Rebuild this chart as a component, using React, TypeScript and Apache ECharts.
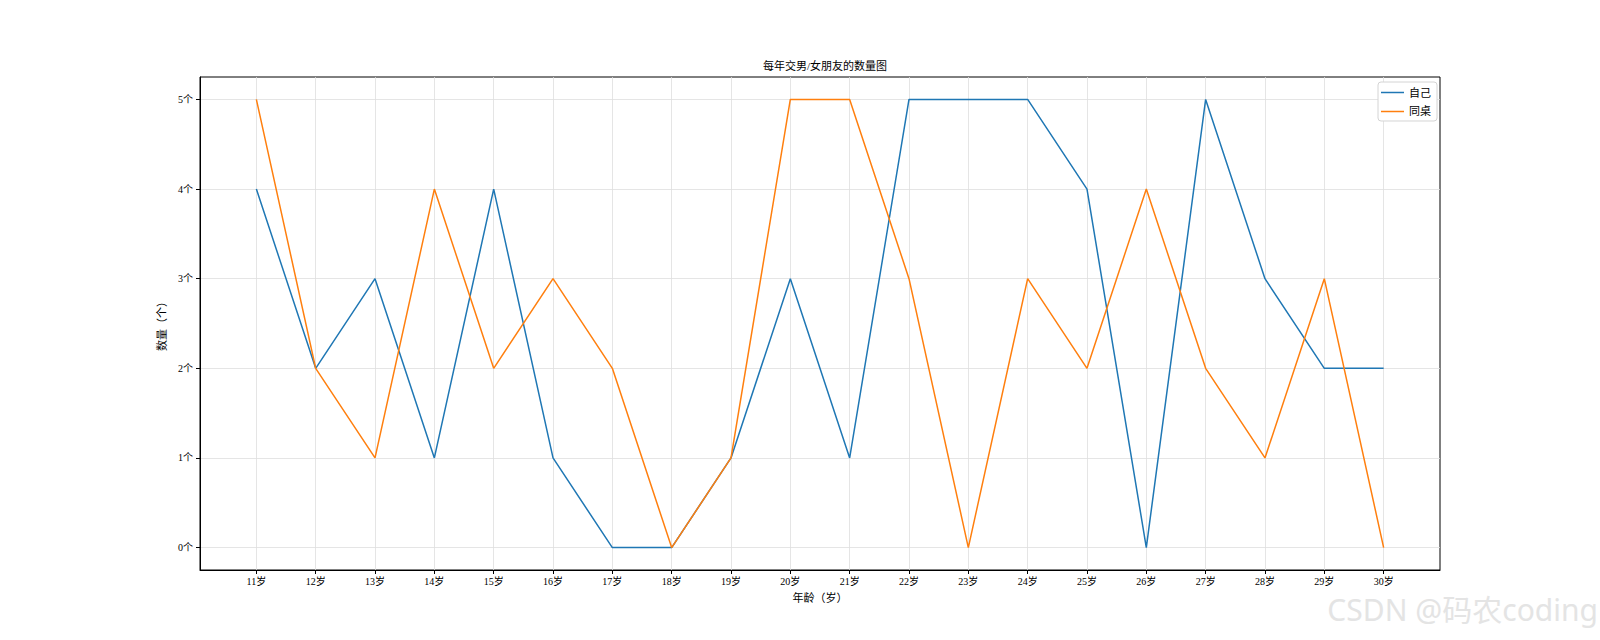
import React, { useEffect, useRef } from "react";
import * as echarts from "echarts";

const ages = [11, 12, 13, 14, 15, 16, 17, 18, 19, 20, 21, 22, 23, 24, 25, 26, 27, 28, 29, 30];
const selfCounts = [4, 2, 3, 1, 4, 1, 0, 0, 1, 3, 1, 5, 5, 5, 4, 0, 5, 3, 2, 2];
const deskmateCounts = [5, 2, 1, 4, 2, 3, 2, 0, 1, 5, 5, 3, 0, 3, 2, 4, 2, 1, 3, 0];
const yTicks = [0, 1, 2, 3, 4, 5];
const seriesNames = ["自己", "同桌"];
const titleText = "每年交男/女朋友的数量图";
const xName = "年龄（岁）";
const yName = "数量（个）";

const FONT = "'Liberation Serif', 'DejaVu Serif', 'Noto Sans CJK SC', serif";

export default function App() {
  const ref = useRef<HTMLDivElement>(null);
  useEffect(() => {
    if (!ref.current) return;
    const chart = echarts.init(ref.current, undefined, { renderer: "svg" });
    const xSpan = ages[ages.length - 1] - ages[0];
    const xMin = ages[0] - xSpan * 0.05;
    const xMax = ages[ages.length - 1] + xSpan * 0.05;
    const yMin = -0.25;
    const yMax = 5.25;
    chart.setOption({
      animation: false,
      backgroundColor: "#ffffff",
      title: {
        text: titleText,
        left: 820,
        textAlign: "center",
        top: 55,
        textStyle: { fontFamily: FONT, fontSize: 11, fontWeight: "normal", color: "#000" },
      },
      legend: {
        orient: "vertical",
        top: 82,
        right: 163,
        icon: "rect",
        itemWidth: 23,
        itemHeight: 1.5,
        itemGap: 8,
        backgroundColor: "#ffffff",
        borderColor: "#d4d4d4",
        borderWidth: 1,
        borderRadius: 3,
        padding: [5, 6, 4, 3],
        textStyle: { fontFamily: FONT, fontSize: 11, color: "#000" },
        data: seriesNames,
      },
      grid: {
        left: 200,
        right: 160,
        top: 77,
        bottom: 70,
        show: true,
        borderColor: "#000",
        borderWidth: 1,
        backgroundColor: "transparent",
      },
      xAxis: {
        type: "value",
        min: xMin,
        max: xMax,
        name: xName,
        nameLocation: "middle",
        nameGap: 22,
        nameTextStyle: { fontFamily: FONT, fontSize: 11, color: "#000" },
        axisLine: { show: true, onZero: false, lineStyle: { color: "#000", width: 1 } },
        axisTick: { show: true, length: 4, customValues: ages, lineStyle: { color: "#000" } },
        axisLabel: {
          customValues: ages,
          formatter: (v: number) => `${Math.round(v)}岁`,
          fontFamily: FONT,
          fontSize: 10,
          color: "#000",
          margin: 6,
        },
        splitLine: { show: true, lineStyle: { color: "#dedede", width: 0.8 } },
      },
      yAxis: {
        type: "value",
        min: yMin,
        max: yMax,
        name: yName,
        nameLocation: "middle",
        nameGap: 29,
        nameRotate: 90,
        nameTextStyle: { fontFamily: FONT, fontSize: 11, color: "#000" },
        axisLine: { show: true, onZero: false, lineStyle: { color: "#000", width: 1 } },
        axisTick: { show: true, length: 4, customValues: yTicks, lineStyle: { color: "#000" } },
        axisLabel: {
          customValues: yTicks,
          formatter: (v: number) => `${Math.round(v)}个`,
          fontFamily: FONT,
          fontSize: 10,
          color: "#000",
          margin: 7,
        },
        splitLine: { show: true, lineStyle: { color: "#dedede", width: 0.8 } },
      },
      series: [
        {
          name: seriesNames[0],
          type: "line",
          data: ages.map((a, i) => [a, selfCounts[i]]),
          showSymbol: false,
          symbol: "none",
          lineStyle: { color: "#1f77b4", width: 1.5 },
          itemStyle: { color: "#1f77b4" },
          z: 3,
        },
        {
          name: seriesNames[1],
          type: "line",
          data: ages.map((a, i) => [a, deskmateCounts[i]]),
          showSymbol: false,
          symbol: "none",
          lineStyle: { color: "#ff7f0e", width: 1.5 },
          itemStyle: { color: "#ff7f0e" },
          z: 4,
        },
      ],
      graphic: [
        {
          type: "text",
          right: 2,
          top: 594,
          style: {
            text: "CSDN @码农coding",
            fontFamily: "'Noto Sans', 'Noto Sans CJK SC', sans-serif",
            fontSize: 30,
            fill: "#e4e4e4",
            shadowColor: "rgba(0,0,0,0.3)",
            shadowBlur: 2,
            shadowOffsetX: 1,
            shadowOffsetY: 1,
          },
          z: 100,
        },
      ],
    });
    return () => chart.dispose();
  }, []);
  return (
    <div
      ref={ref}
      style={{ position: "fixed", left: 0, top: 0, width: 1600, height: 640, background: "#fff" }}
    />
  );
}
